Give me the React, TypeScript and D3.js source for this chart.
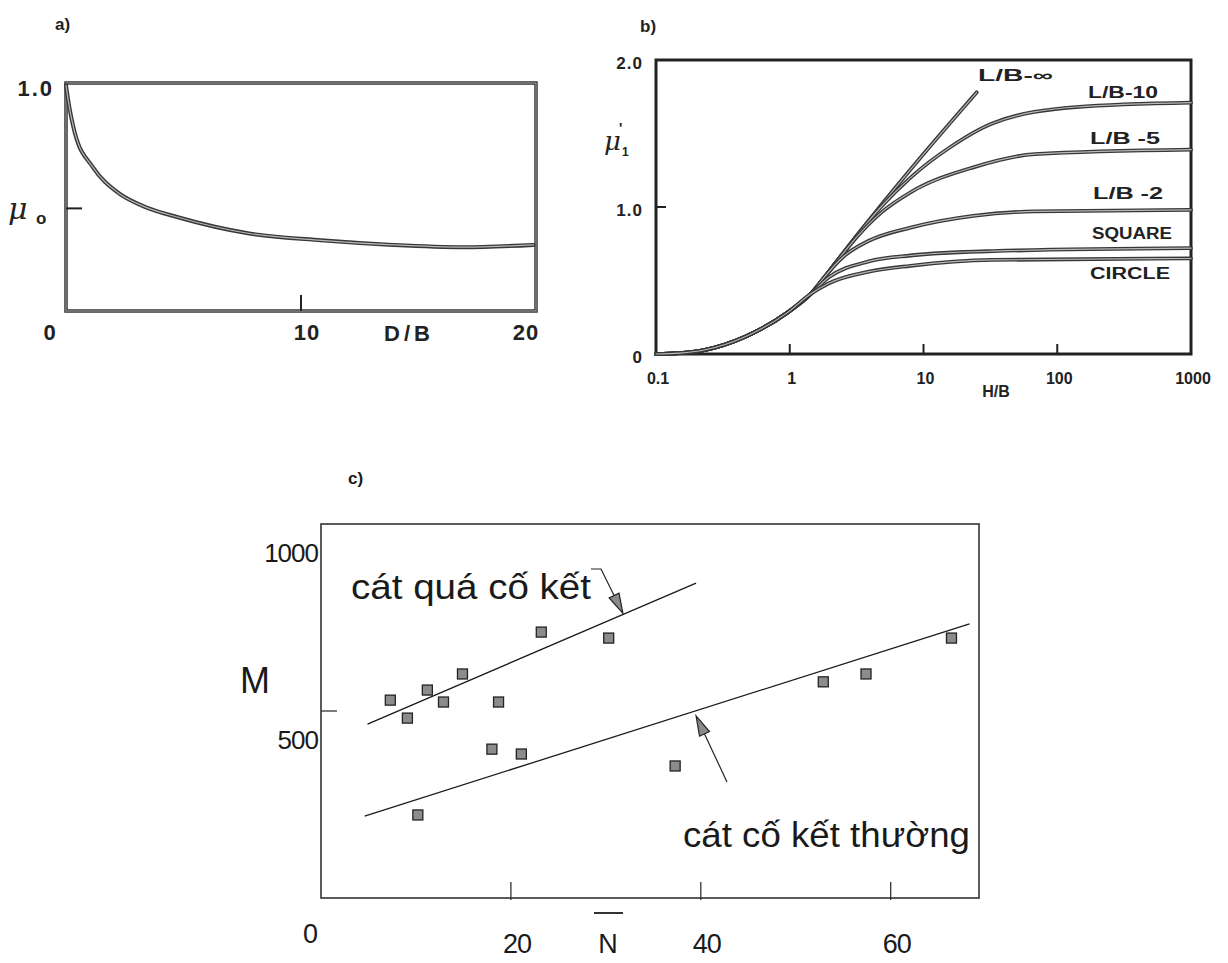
import React from "react";
import * as d3 from "d3";

// ---- panel a: mu0 vs D/B ----
const aDB = [0, 0.085, 0.38, 1.15, 2.2, 3.28, 4.8, 7.8, 10.85, 13.9, 16.9, 19.9];
const aMu = [0.99, 0.93, 0.78, 0.63, 0.52, 0.46, 0.41, 0.34, 0.31, 0.29, 0.28, 0.29];
const aXTicks = [0, 10, 20];
const aMuTick = 0.45;

// ---- panel b: mu1 vs H/B (log) ----
const bBaseHB = [0.1, 0.15, 0.229, 0.46, 0.955];
const bBaseMu = [0, 0.006, 0.027, 0.116, 0.28];
const bSeriesNames = ["L/B=∞", "L/B=10", "L/B=5", "L/B=2", "SQUARE", "CIRCLE"];
const bLabels = ["L/B-∞", "L/B-10", "L/B -5", "L/B -2", "SQUARE", "CIRCLE"];
const bInfHB = [1.44, 2.2, 3.2, 4.8, 10, 25];
const bInfMu = [0.41, 0.62, 0.81, 1.01, 1.36, 1.78];
const b10HB = [1.44, 2.2, 3.2, 4.8, 8, 16, 33, 138, 1000];
const b10Mu = [0.41, 0.62, 0.81, 1.0, 1.2, 1.41, 1.57, 1.68, 1.71];
const b5HB = [1.44, 2.2, 3.2, 4.8, 8, 23.6, 68, 1000];
const b5Mu = [0.41, 0.62, 0.8, 0.96, 1.1, 1.27, 1.36, 1.39];
const b2HB = [1.44, 1.8, 2.5, 3.9, 8, 23.6, 68, 1000];
const b2Mu = [0.41, 0.52, 0.66, 0.77, 0.86, 0.94, 0.97, 0.98];
const bSqHB = [1.44, 1.95, 3.9, 8, 33, 1000];
const bSqMu = [0.41, 0.52, 0.63, 0.67, 0.7, 0.72];
const bCiHB = [1.44, 1.95, 3.9, 8, 33, 1000];
const bCiMu = [0.41, 0.48, 0.56, 0.6, 0.64, 0.65];
const bXTicks = [0.1, 1, 10, 100, 1000];
const bXLabels = ["0.1", "1", "10", "100", "1000"];
const bYTicks = [0, 1, 2];
const bYLabels = ["0", "1.0", "2.0"];

// ---- panel c: M vs N ----
const cN = [7.3, 9.1, 11.2, 12.9, 14.9, 18.7, 18.0, 21.1, 23.2, 30.3, 10.2, 37.3, 52.9, 57.4, 66.4];
const cM = [529, 481, 556, 524, 599, 524, 398, 385, 711, 695, 222, 353, 578, 599, 695];
const cOverN = [4.9, 39.5];
const cOverM = [465, 842];
const cNormN = [4.6, 68.3];
const cNormM = [219, 733];
const cXTicks = [0, 20, 40, 60];
const cYTicks = [500, 1000];

const boldFont = "'Liberation Sans', Arial, sans-serif";

type Pt = [number, number];

function zip(xs: number[], ys: number[]): Pt[] {
  return xs.map((x, i) => [x, ys[i]] as Pt);
}

function ScanLine({ d, w = 4 }: { d: string | null; w?: number }) {
  return (
    <g fill="none" strokeLinecap="round" strokeLinejoin="round">
      <path d={d || ""} stroke="#383838" strokeWidth={w} />
      <path d={d || ""} stroke="#b8b8b8" strokeWidth={w * 0.3} />
    </g>
  );
}

function PanelA() {
  const x = d3.scaleLinear().domain([0, 20]).range([66, 536]);
  const y = d3.scaleLinear().domain([0, 1]).range([311, 83]);
  const line = d3
    .line<Pt>()
    .x(d => x(d[0]))
    .y(d => y(d[1]))
    .curve(d3.curveMonotoneX);
  const x0 = x(0), x1 = x(20), y0 = y(0), y1 = y(1);
  return (
    <g fontFamily={boldFont} fontWeight="bold" fill="#222">
      <text x={55} y={30} fontSize={17}>a)</text>
      {/* frame */}
      <rect x={x0} y={y1} width={x1 - x0} height={y0 - y1} fill="none" stroke="#333" strokeWidth={3.5} />
      <rect x={x0} y={y1} width={x1 - x0} height={y0 - y1} fill="none" stroke="#aaa" strokeWidth={1} />
      {/* ticks */}
      <line x1={x(10)} x2={x(10)} y1={y0} y2={y0 - 16} stroke="#222" strokeWidth={2} />
      <line x1={x0} x2={x0 + 16} y1={y(aMuTick)} y2={y(aMuTick)} stroke="#222" strokeWidth={2} />
      <ScanLine d={line(zip(aDB, aMu))} w={4} />
      <text x={54} y={y(1) + 13} fontSize={22} textAnchor="end" letterSpacing={2}>1.0</text>
      <text x={8} y={y(aMuTick) + 11} fontSize={30} fontStyle="italic" fontWeight="normal" fontFamily="'DejaVu Serif', serif">μ</text>
      <text x={36} y={y(aMuTick) + 16} fontSize={17}>o</text>
      {aXTicks.map((t, i) => (
        <text key={i} x={x(t) + [-16, 6, -10][i]} y={340} fontSize={22} textAnchor="middle" letterSpacing={1}>
          {t}
        </text>
      ))}
      <text x={409} y={341} fontSize={22} textAnchor="middle" letterSpacing={4}>D/B</text>
    </g>
  );
}

function PanelB() {
  const x = d3.scaleLog().domain([0.1, 1000]).range([656, 1191]);
  const y = d3.scaleLinear().domain([0, 2]).range([354, 60]);
  const line = d3
    .line<Pt>()
    .x(d => x(d[0]))
    .y(d => y(d[1]))
    .curve(d3.curveMonotoneX);
  const base = zip(bBaseHB, bBaseMu);
  const series = [
    zip(bInfHB, bInfMu),
    zip(b10HB, b10Mu),
    zip(b5HB, b5Mu),
    zip(b2HB, b2Mu),
    zip(bSqHB, bSqMu),
    zip(bCiHB, bCiMu),
  ];
  const labelPos: Pt[] = [
    [978, 81],
    [1088, 98],
    [1090, 144],
    [1093, 199],
    [1092, 239],
    [1090, 279],
  ];
  const x0 = x(0.1), x1 = x(1000), y0 = y(0), y1 = y(2);
  return (
    <g fontFamily={boldFont} fontWeight="bold" fill="#222">
      <text x={640} y={32} fontSize={17}>b)</text>
      <rect x={x0} y={y1} width={x1 - x0} height={y0 - y1} fill="none" stroke="#222" strokeWidth={3} />
      {bXTicks.slice(1, 4).map((t, i) => (
        <line key={i} x1={x(t)} x2={x(t)} y1={y0} y2={y0 - 10} stroke="#222" strokeWidth={2} />
      ))}
      <line x1={x0} x2={x0 + 10} y1={y(1)} y2={y(1)} stroke="#222" strokeWidth={2} />
      {series.map((s, i) => (
        <g key={bSeriesNames[i]}>
          <ScanLine d={line([...base, ...s])} w={3.8} />
          <text x={labelPos[i][0]} y={labelPos[i][1]} fontSize={16} textLength={i === 0 ? 75 : i >= 4 ? 80 : 70} lengthAdjust="spacingAndGlyphs">
            {bLabels[i]}
          </text>
        </g>
      ))}
      {bYTicks.map((t, i) => (
        <text key={i} x={643} y={y(t) + 9} fontSize={17} textAnchor="end" letterSpacing={1}>
          {bYLabels[i]}
        </text>
      ))}
      {bXTicks.map((t, i) => (
        <text key={i} x={x(t) + 2} y={384} fontSize={16} textAnchor="middle">
          {bXLabels[i]}
        </text>
      ))}
      <text x={996} y={397} fontSize={16} textAnchor="middle">H/B</text>
      <text x={604} y={150} fontSize={26} fontStyle="italic" fontWeight="normal" fontFamily="'DejaVu Serif', serif">μ</text>
      <text x={619} y={133} fontSize={14}>'</text>
      <text x={622} y={156} fontSize={12}>1</text>
    </g>
  );
}

function Arrow({ tip, tail, elbow }: { tip: Pt; tail: Pt; elbow?: Pt }) {
  const start = elbow || tail;
  const dx = tip[0] - start[0], dy = tip[1] - start[1];
  const len = Math.hypot(dx, dy);
  const ux = dx / len, uy = dy / len;
  const hl = 20, hw = 5.5;
  const bx = tip[0] - ux * hl, by = tip[1] - uy * hl;
  const head = `M${tip[0]},${tip[1]}L${bx - uy * hw},${by + ux * hw}L${bx + uy * hw},${by - ux * hw}Z`;
  const pts = elbow ? [tail, elbow, [bx, by]] : [tail, [bx, by]];
  return (
    <g>
      <polyline points={pts.map(p => p.join(",")).join(" ")} fill="none" stroke="#222" strokeWidth={1.2} />
      <path d={head} fill="#8a8a8a" stroke="#222" strokeWidth={1.2} />
    </g>
  );
}

function PanelC() {
  const x = d3.scaleLinear().domain([0, 69.3]).range([321, 979]);
  const y = d3.scaleLinear().domain([0, 1000]).range([898, 524]);
  const line = d3
    .line<Pt>()
    .x(d => x(d[0]))
    .y(d => y(d[1]));
  const over = zip(cOverN, cOverM);
  const norm = zip(cNormN, cNormM);
  const onLine = (l: Pt[], n: number) => {
    const t = (n - l[0][0]) / (l[1][0] - l[0][0]);
    return l[0][1] + t * (l[1][1] - l[0][1]);
  };
  const upTip: Pt = [x(31.8), y(onLine(over, 31.8)) - 1];
  const loTip: Pt = [x(39.5), y(onLine(norm, 39.5)) + 5];
  const font = "'Liberation Sans', Arial, sans-serif";
  const x0 = x(0), x1 = x(69.3), y0 = y(0), y1 = y(1000);
  return (
    <g fontFamily={font} fill="#1a1a1a">
      <text x={348} y={484} fontSize={17} fontWeight="bold">c)</text>
      <rect x={x0} y={y1} width={x1 - x0} height={y0 - y1} fill="none" stroke="#333" strokeWidth={1.6} />
      {cXTicks.slice(1).map((t, i) => (
        <line key={i} x1={x(t)} x2={x(t)} y1={y0 + 2} y2={y0 - 16} stroke="#333" strokeWidth={1.3} />
      ))}
      <line x1={x0} x2={x0 + 16} y1={y(500)} y2={y(500)} stroke="#333" strokeWidth={1.3} />
      <path d={line(over) || ""} stroke="#1a1a1a" strokeWidth={1.3} fill="none" />
      <path d={line(norm) || ""} stroke="#1a1a1a" strokeWidth={1.3} fill="none" />
      {cN.map((n, i) => (
        <rect key={i} x={x(n) - 5} y={y(cM[i]) - 5} width={10} height={10} fill="#8c8c8c" stroke="#222" strokeWidth={1.3} />
      ))}
      <Arrow tail={[591, 569]} elbow={[601, 569]} tip={upTip} />
      <Arrow tail={[727, 782]} tip={loTip} />
      <text x={351} y={599} fontSize={35} textLength={240} lengthAdjust="spacingAndGlyphs">cát quá cố kết</text>
      <text x={683} y={847} fontSize={35} textLength={287} lengthAdjust="spacingAndGlyphs">cát cố kết thường</text>
      <text x={240} y={693} fontSize={36}>M</text>
      {cYTicks.map((t, i) => (
        <text key={i} x={318} y={y(t) + 38} fontSize={26} textAnchor="end" letterSpacing={-1}>
          {t}
        </text>
      ))}
      {cXTicks.map((t, i) => (
        <text key={i} x={x(t) + (i === 0 ? -11 : 6)} y={i === 0 ? 943 : 953} fontSize={27} textAnchor="middle" letterSpacing={-1}>
          {t}
        </text>
      ))}
      <text x={608} y={953} fontSize={27} textAnchor="middle">N</text>
      <line x1={594} x2={623} y1={913} y2={913} stroke="#333" strokeWidth={2} />
    </g>
  );
}

export default function App() {
  return (
    <svg
      width={1228}
      height={963}
      style={{ position: "absolute", left: 0, top: 0, background: "#fff" }}
    >
      <rect width={1228} height={963} fill="#fff" />
      <PanelA />
      <PanelB />
      <PanelC />
    </svg>
  );
}
